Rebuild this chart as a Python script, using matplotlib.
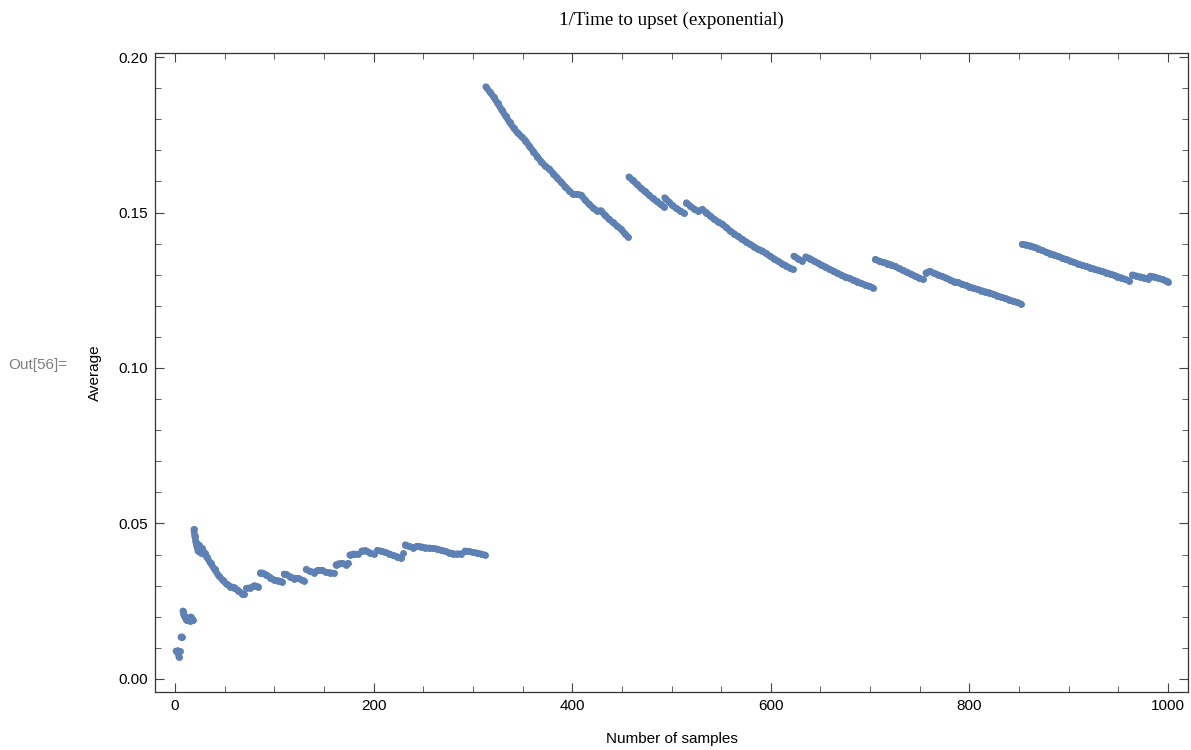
import matplotlib
matplotlib.use("Agg")
import matplotlib.pyplot as plt
import numpy as np
from matplotlib.collections import LineCollection
from matplotlib.ticker import MultipleLocator, FormatStrFormatter

# running average of 1/time-to-upset
samples = [
    1, 2, 3, 4, 5, 6, 7, 8, 9, 10, 11, 12, 13, 14, 15, 16, 17, 18, 19, 20,
    21, 22, 23, 24, 25, 26, 27, 28, 29, 30,
    32, 36, 40, 44, 48, 52, 56, 60, 64, 68, 70, 72, 76, 80, 84, 86, 88, 92, 96, 100,
    104, 108, 110, 112, 116, 120, 124, 128, 130, 132, 136, 140, 144, 148, 152, 156, 160, 162, 164, 168,
    172, 174, 176, 180, 184, 188, 192, 196, 200, 204, 208, 212, 216, 220, 224, 228, 230, 232, 236, 240,
    244, 248, 252, 256, 260, 264, 268, 272, 276, 280, 284, 288, 292, 296, 300, 304, 308, 312,
    313, 317, 321, 325, 329, 333, 337, 341, 345, 349, 353, 357, 361, 365, 369, 373, 377, 381, 385, 389,
    393, 397, 401, 405, 409, 413, 417, 421, 425, 429, 433, 437, 441, 445, 449, 453, 456,
    457, 461, 465, 469, 473, 477, 481, 485, 489, 492,
    493, 497, 501, 505, 509, 513,
    515, 519, 523, 527, 531, 535, 539, 543, 547, 551, 555, 559, 563, 567, 571, 575, 579, 583, 587, 591,
    595, 599, 603, 607, 611, 615, 619, 622,
    623, 627, 631, 635, 639, 643, 647, 651, 655, 659, 663, 667, 671, 675, 679, 683, 687, 691, 695, 699, 703,
    705, 709, 713, 717, 721, 725, 729, 733, 737, 741, 745, 749, 753,
    756, 760, 764, 768, 772, 776, 780, 784, 788, 792, 796, 800, 804, 808, 812, 816, 820, 824, 828, 832,
    836, 840, 844, 848, 852,
    853, 857, 861, 865, 869, 873, 877, 881, 885, 889, 893, 897, 901, 905, 909, 913, 917, 921, 925, 929,
    933, 937, 941, 945, 949, 953, 957, 961,
    964, 968, 972, 976, 980,
    982, 986, 990, 994, 998, 1000,
]
average = [
    0.0090, 0.0088, 0.0091, 0.0070, 0.0091, 0.0135, 0.0136, 0.0219, 0.0205, 0.0200,
    0.0193, 0.0188, 0.0196, 0.0190, 0.0186, 0.0200, 0.0192, 0.0189, 0.0481, 0.0460,
    0.0441, 0.0428, 0.0413, 0.0432, 0.0418, 0.0405, 0.0420, 0.0410, 0.0402, 0.0405,
    0.0392, 0.0372, 0.0352, 0.0332, 0.0318, 0.0305, 0.0297, 0.0294, 0.0284, 0.0273,
    0.0272, 0.0292, 0.0293, 0.0300, 0.0297, 0.0342, 0.0341, 0.0335, 0.0326, 0.0318,
    0.0316, 0.0313, 0.0338, 0.0336, 0.0329, 0.0323, 0.0324, 0.0318, 0.0316, 0.0352,
    0.0346, 0.0342, 0.0350, 0.0350, 0.0343, 0.0342, 0.0340, 0.0367, 0.0370, 0.0372,
    0.0368, 0.0372, 0.0399, 0.0402, 0.0401, 0.0412, 0.0413, 0.0406, 0.0402, 0.0414,
    0.0411, 0.0407, 0.0402, 0.0397, 0.0393, 0.0388, 0.0406, 0.0432, 0.0426, 0.0422,
    0.0427, 0.0425, 0.0422, 0.0421, 0.0420, 0.0418, 0.0414, 0.0411, 0.0406, 0.0403,
    0.0402, 0.0403, 0.0412, 0.0410, 0.0407, 0.0405, 0.0402, 0.0399,
    0.1905, 0.1888, 0.1871, 0.1851, 0.1830, 0.1810, 0.1790, 0.1772, 0.1756, 0.1744,
    0.1731, 0.1713, 0.1696, 0.1679, 0.1663, 0.1649, 0.1640, 0.1625, 0.1611, 0.1597,
    0.1583, 0.1570, 0.1558, 0.1559, 0.1556, 0.1540, 0.1527, 0.1515, 0.1505, 0.1506,
    0.1491, 0.1479, 0.1468, 0.1457, 0.1447, 0.1432, 0.1422,
    0.1615, 0.1603, 0.1591, 0.1579, 0.1568, 0.1557, 0.1546, 0.1536, 0.1526, 0.1519,
    0.1548, 0.1535, 0.1523, 0.1513, 0.1505, 0.1497,
    0.1532, 0.1520, 0.1511, 0.1504, 0.1510, 0.1500, 0.1489, 0.1478, 0.1470, 0.1463,
    0.1452, 0.1441, 0.1432, 0.1423, 0.1414, 0.1406, 0.1398, 0.1390, 0.1382, 0.1377,
    0.1369, 0.1360, 0.1352, 0.1344, 0.1336, 0.1329, 0.1322, 0.1317,
    0.1360, 0.1352, 0.1345, 0.1358, 0.1352, 0.1345, 0.1338, 0.1331, 0.1325, 0.1318,
    0.1312, 0.1305, 0.1299, 0.1293, 0.1289, 0.1283, 0.1278, 0.1272, 0.1267, 0.1263, 0.1258,
    0.1349, 0.1344, 0.1340, 0.1336, 0.1332, 0.1327, 0.1320, 0.1314, 0.1308, 0.1302,
    0.1296, 0.1290, 0.1285,
    0.1306, 0.1311, 0.1305, 0.1300, 0.1295, 0.1290, 0.1284, 0.1278, 0.1275, 0.1270,
    0.1266, 0.1261, 0.1257, 0.1253, 0.1249, 0.1245, 0.1242, 0.1237, 0.1232, 0.1228,
    0.1224, 0.1219, 0.1215, 0.1211, 0.1206,
    0.1398, 0.1396, 0.1393, 0.1389, 0.1384, 0.1378, 0.1373, 0.1368, 0.1364, 0.1359,
    0.1354, 0.1349, 0.1345, 0.1340, 0.1335, 0.1331, 0.1327, 0.1323, 0.1319, 0.1315,
    0.1311, 0.1307, 0.1303, 0.1299, 0.1294, 0.1290, 0.1285, 0.1280,
    0.1300, 0.1296, 0.1293, 0.1290, 0.1286,
    0.1296, 0.1293, 0.1289, 0.1285, 0.1280, 0.1278,
]

sans = ["Liberation Sans", "DejaVu Sans"]
serif = ["Liberation Serif", "DejaVu Serif"]
blue = "#5E81B5"

fig = plt.figure(figsize=(11.91, 7.5), dpi=100)
ax = fig.add_axes([155 / 1191, 58 / 750, 1033 / 1191, 639 / 750])

# the real data has a point for every sample, so neighbouring points touch;
# fill the gaps between stored points with a stroke as wide as a marker,
# but leave the upward jumps (a new large sample) open
x = np.array(samples, dtype=float)
y = np.array(average)
pairs = [[(x[i], y[i]), (x[i + 1], y[i + 1])] for i in range(len(x) - 1)
         if y[i + 1] - y[i] < 0.00085 and y[i] - y[i + 1] < 0.003 and x[i + 1] - x[i] <= 4]
ax.add_collection(LineCollection(pairs, colors=blue, linewidths=4.7, capstyle="round"))
ax.plot(samples, average, "o", color=blue, markersize=5.0, markeredgewidth=0)

ax.set_xlim(-20, 1020)
ax.set_ylim(-0.0042, 0.2013)

ax.xaxis.set_major_locator(MultipleLocator(200))
ax.xaxis.set_minor_locator(MultipleLocator(50))
ax.yaxis.set_major_locator(MultipleLocator(0.05))
ax.yaxis.set_minor_locator(MultipleLocator(0.01))
ax.yaxis.set_major_formatter(FormatStrFormatter("%.2f"))

ax.tick_params(which="both", direction="in", top=True, right=True, color="#444444")
ax.tick_params(which="major", length=6.5, width=0.8, pad=5, labelsize=11)
ax.tick_params(which="minor", length=4, width=0.6)
for lab in ax.get_xticklabels() + ax.get_yticklabels():
    lab.set_family(sans)

for sp in ax.spines.values():
    sp.set_color("#333333")
    sp.set_linewidth(0.9)

ax.set_xlabel("Number of samples", family=sans, fontsize=11, labelpad=14)
ax.set_ylabel("Average", family=sans, fontsize=11, labelpad=11.5)

fig.text(671 / 1191, 1 - 20 / 750, "1/Time to upset (exponential)", family=serif,
         fontsize=13.7, ha="center", va="center")
fig.text(8 / 1191, 1 - 365 / 750, "Out[56]=", family=sans, fontsize=11,
         color="#808080", ha="left", va="center")

fig.savefig("out.png", dpi=100)
